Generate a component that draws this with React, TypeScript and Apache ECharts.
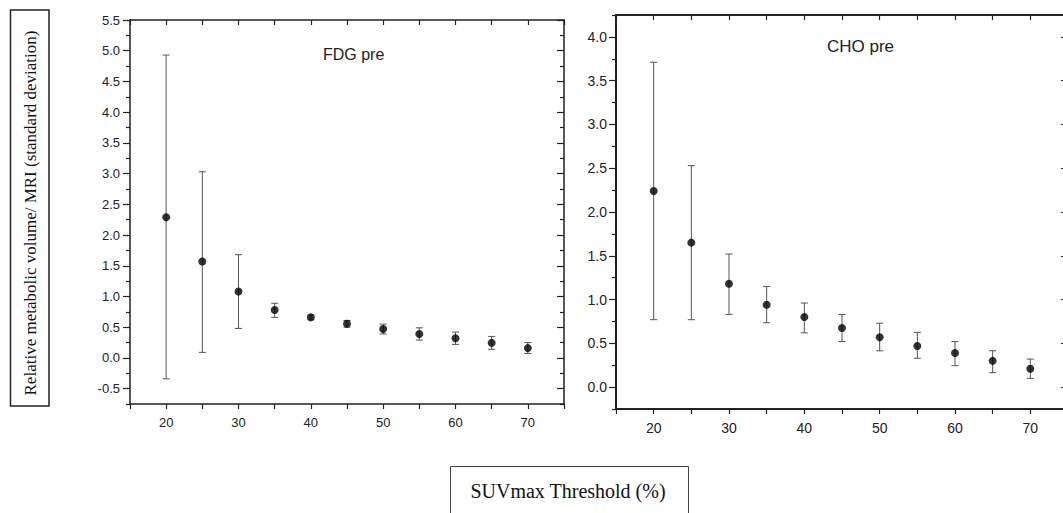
import React, { useEffect, useRef } from "react";
import * as echarts from "echarts";

const thresholds = [20, 25, 30, 35, 40, 45, 50, 55, 60, 65, 70];

const fdgMean = [2.29, 1.57, 1.08, 0.78, 0.66, 0.555, 0.47, 0.39, 0.32, 0.245, 0.16];
const fdgUpper = [4.93, 3.03, 1.68, 0.89, 0.70, 0.61, 0.55, 0.49, 0.42, 0.35, 0.25];
const fdgLower = [-0.34, 0.09, 0.48, 0.66, 0.62, 0.50, 0.39, 0.29, 0.22, 0.14, 0.07];

const choMean = [2.24, 1.65, 1.18, 0.94, 0.80, 0.675, 0.57, 0.47, 0.39, 0.30, 0.21];
const choUpper = [3.71, 2.53, 1.52, 1.15, 0.96, 0.83, 0.73, 0.625, 0.52, 0.415, 0.32];
const choLower = [0.77, 0.77, 0.83, 0.735, 0.62, 0.52, 0.415, 0.33, 0.245, 0.165, 0.10];

const xLabels = [20, 30, 40, 50, 60, 70];
const xTicks = [15, 20, 25, 30, 35, 40, 45, 50, 55, 60, 65, 70, 75];
const fdgYMajor = [-0.5, 0, 0.5, 1, 1.5, 2, 2.5, 3, 3.5, 4, 4.5, 5, 5.5];
const fdgYMinor = [-0.75, -0.25, 0.25, 0.75, 1.25, 1.75, 2.25, 2.75, 3.25, 3.75, 4.25, 4.75, 5.25];
const choYMajor = [0, 0.5, 1, 1.5, 2, 2.5, 3, 3.5, 4];
const choYMinor = [-0.25, 0.25, 0.75, 1.25, 1.75, 2.25, 2.75, 3.25, 3.75, 4.25];

const panelTitles = ["FDG pre", "CHO pre"];
const yTitle = "Relative metabolic volume/ MRI (standard deviation)";
const xTitle = "SUVmax Threshold (%)";

const SANS = "'Liberation Sans', Arial, sans-serif";
const SERIF = "'Liberation Serif', 'Times New Roman', serif";
const AX = "#222";

function App() {
  const ref = useRef<HTMLDivElement>(null);
  useEffect(() => {
    if (!ref.current) return;
    const chart = echarts.init(ref.current, null, { renderer: "svg" });

    const xAxisPair = (grid: number, lw: number, fs: number) => [
      {
        type: "value", gridIndex: grid, position: "bottom", min: 15, max: 75, interval: 5,
        axisLine: { show: true, onZero: false, lineStyle: { color: AX, width: lw } },
        axisTick: { show: true, inside: false, length: 5, customValues: xTicks, lineStyle: { color: AX, width: 1.2 } },
        axisLabel: { show: true, customValues: xLabels, margin: 12, fontSize: fs, color: "#222", fontFamily: SANS },
        splitLine: { show: false },
      },
      {
        type: "value", gridIndex: grid, position: "top", min: 15, max: 75, interval: 5,
        axisLine: { show: true, onZero: false, lineStyle: { color: AX, width: lw } },
        axisTick: { show: true, inside: true, length: 5, customValues: xTicks, lineStyle: { color: AX, width: 1.2 } },
        axisLabel: { show: false },
        splitLine: { show: false },
      },
    ];

    const yAxes = (grid: number, min: number, max: number, major: number[], minor: number[], lw: number, fs: number, margin: number) => [
      {
        type: "value", gridIndex: grid, position: "left", min, max, interval: 0.25,
        axisLine: { show: true, onZero: false, lineStyle: { color: AX, width: lw } },
        axisTick: { show: true, inside: false, length: 7, customValues: major, lineStyle: { color: AX, width: 1.2 } },
        axisLabel: { show: true, customValues: major, margin, fontSize: fs, color: "#222", fontFamily: SANS, formatter: (v: number) => v.toFixed(1) },
        splitLine: { show: false },
      },
      {
        type: "value", gridIndex: grid, position: "left", min, max, interval: 0.25,
        axisLine: { show: false, onZero: false },
        axisTick: { show: true, inside: false, length: 4, customValues: minor, lineStyle: { color: AX, width: 1.2 } },
        axisLabel: { show: false },
        splitLine: { show: false },
      },
      {
        type: "value", gridIndex: grid, position: "right", min, max, interval: 0.25,
        axisLine: { show: true, onZero: false, lineStyle: { color: AX, width: lw } },
        axisTick: { show: true, inside: true, length: 7, customValues: major, lineStyle: { color: AX, width: 1.2 } },
        axisLabel: { show: false },
        splitLine: { show: false },
      },
      {
        type: "value", gridIndex: grid, position: "right", min, max, interval: 0.25,
        axisLine: { show: false, onZero: false },
        axisTick: { show: true, inside: true, length: 4, customValues: minor, lineStyle: { color: AX, width: 1.2 } },
        axisLabel: { show: false },
        splitLine: { show: false },
      },
    ];

    const errorSeries = (xi: number, yi: number, lo: number[], hi: number[]) => ({
      type: "custom",
      xAxisIndex: xi,
      yAxisIndex: yi,
      data: thresholds.map((t, i) => [t, lo[i], hi[i]]),
      encode: { x: 0, y: [1, 2] },
      z: 2,
      renderItem: (params: any, api: any) => {
        const x = api.value(0);
        const pLo = api.coord([x, api.value(1)]);
        const pHi = api.coord([x, api.value(2)]);
        const w = 3.5;
        const st = { stroke: "#555", lineWidth: 1, fill: "none" };
        return {
          type: "group",
          children: [
            { type: "line", shape: { x1: pLo[0], y1: pLo[1], x2: pHi[0], y2: pHi[1] }, style: st },
            { type: "line", shape: { x1: pHi[0] - w, y1: pHi[1], x2: pHi[0] + w, y2: pHi[1] }, style: st },
            { type: "line", shape: { x1: pLo[0] - w, y1: pLo[1], x2: pLo[0] + w, y2: pLo[1] }, style: st },
          ],
        };
      },
    });

    const pointSeries = (xi: number, yi: number, vals: number[]) => ({
      type: "scatter",
      xAxisIndex: xi,
      yAxisIndex: yi,
      data: thresholds.map((t, i) => [t, vals[i]]),
      symbol: "circle",
      symbolSize: 8,
      itemStyle: { color: "#000" },
      z: 3,
    });

    chart.setOption({
      animation: false,
      backgroundColor: "#fff",
      grid: [
        { left: 130, top: 20, width: 434, height: 384 },
        { left: 616, top: 15, width: 452, height: 394 },
      ],
      xAxis: [...xAxisPair(0, 1.5, 13), ...xAxisPair(1, 2, 14)],
      yAxis: [
        ...yAxes(0, -0.75, 5.5, fdgYMajor, fdgYMinor, 1.5, 13, 10),
        ...yAxes(1, -0.25, 4.25, choYMajor, choYMinor, 2, 14, 9),
      ],
      series: [
        errorSeries(0, 0, fdgLower, fdgUpper),
        pointSeries(0, 0, fdgMean),
        errorSeries(2, 4, choLower, choUpper),
        pointSeries(2, 4, choMean),
      ],
      graphic: [
        { type: "text", left: 323, top: 46, style: { text: panelTitles[0], font: `16px ${SANS}`, fill: "#222" } },
        { type: "text", left: 827, top: 38, style: { text: panelTitles[1], font: `17px ${SANS}`, fill: "#222" } },
        { type: "rect", shape: { x: 10.5, y: 10, width: 38.5, height: 396 }, style: { fill: "none", stroke: "#222", lineWidth: 1.5 } },
        {
          type: "text", x: 30, y: 213, rotation: Math.PI / 2,
          style: { text: yTitle, font: `17px ${SERIF}`, fill: "#111", textAlign: "center", textVerticalAlign: "middle" },
        },
        { type: "rect", shape: { x: 450.5, y: 466.5, width: 238, height: 60 }, style: { fill: "none", stroke: "#444", lineWidth: 1 } },
        {
          type: "text", x: 568, y: 491,
          style: { text: xTitle, font: `20px ${SERIF}`, fill: "#111", textAlign: "center", textVerticalAlign: "middle" },
        },
      ],
    });

    return () => chart.dispose();
  }, []);

  return (
    <div style={{ position: "fixed", left: 0, top: 0, width: 1063, height: 513, overflow: "hidden", background: "#fff" }}>
      <div ref={ref} style={{ width: 1090, height: 513 }} />
    </div>
  );
}

export default App;
